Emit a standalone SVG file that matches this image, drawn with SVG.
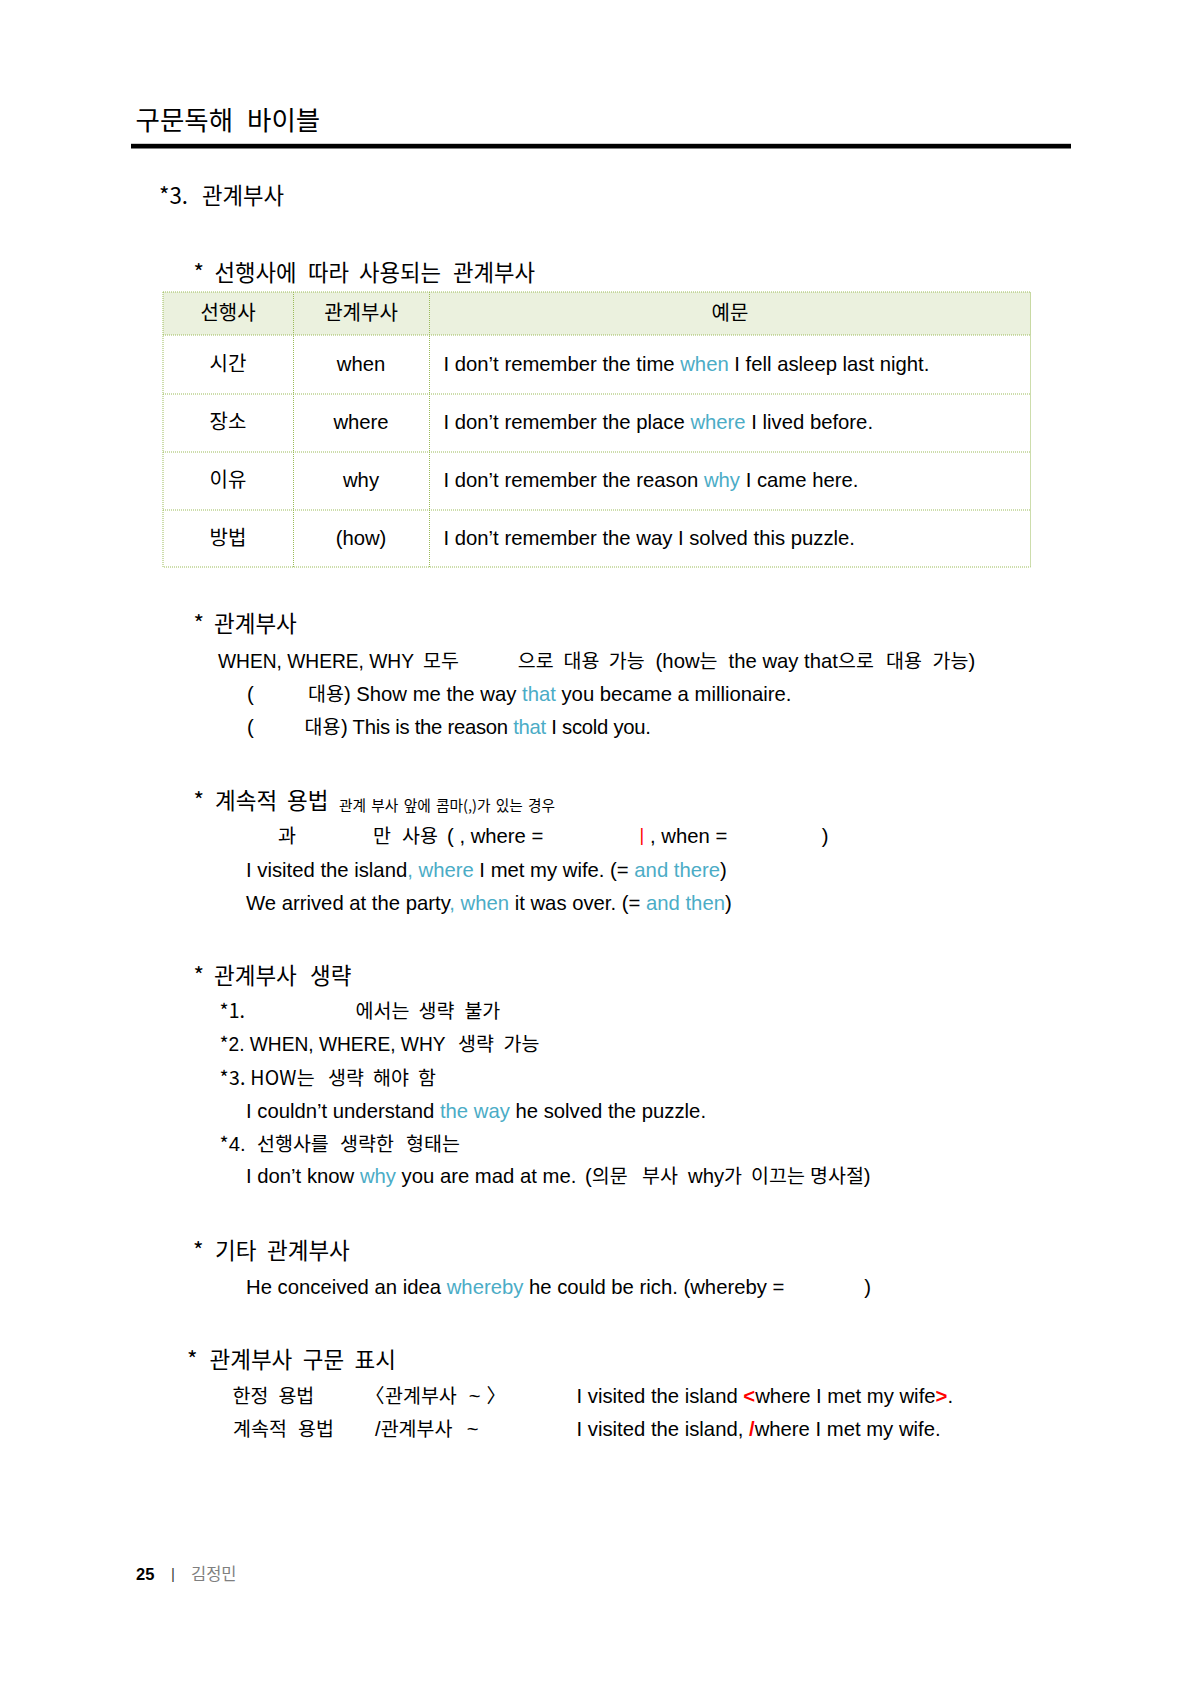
<svg xmlns="http://www.w3.org/2000/svg" width="1190" height="1683" viewBox="0 0 1190 1683">
<style>
text { font-family: "Liberation Sans", "Noto Sans CJK KR", sans-serif; font-size: 20.3px; fill: #000; }
.k { font-family: "Noto Sans CJK KR", sans-serif; font-size: 19.5px; }
.kh { font-family: "Noto Sans CJK KR", sans-serif; font-size: 22.5px; }
.ks { font-family: "Noto Sans CJK KR", sans-serif; font-size: 22.3px; }
.kt { font-family: "Noto Sans CJK KR", sans-serif; font-size: 20px; }
.small { font-family: "Noto Sans CJK KR", sans-serif; font-size: 14.7px; word-spacing: 2px; }
.b { fill: #4BACC6; }
.r { fill: #FF0000; }
.rb { fill: #FF0000; font-weight: bold; }
.mid { text-anchor: middle; }
.grid { stroke: #9BBB59; stroke-width: 1; stroke-dasharray: 1 1; fill: none; }
</style>
<rect x="0" y="0" width="1190" height="1683" fill="#FFFFFF"/>

<g id="header">
  <text y="130" style="font-family: 'Noto Sans CJK KR', sans-serif; font-size: 26.5px;"><tspan x="135.5">구문독해</tspan><tspan x="247">바이블</tspan></text>
  <rect x="131" y="143.8" width="940" height="4.7" fill="#000"/>
</g>

<g id="section-title">
  <text y="204" class="ks"><tspan x="159">*3.</tspan><tspan x="202">관계부사</tspan></text>
</g>

<g id="table-title">
  <text y="281" class="ks"><tspan x="193.5">*</tspan><tspan x="214.5">선행사에</tspan><tspan x="308">따라</tspan><tspan x="359">사용되는</tspan><tspan x="453">관계부사</tspan></text>
</g>

<g id="table">
  <rect x="163" y="292" width="867.5" height="43" fill="#EBF1DE"/>
  <rect x="163" y="292" width="867.5" height="275" class="grid"/>
  <line x1="163" y1="335" x2="1030.5" y2="335" class="grid"/>
  <line x1="163" y1="394" x2="1030.5" y2="394" class="grid"/>
  <line x1="163" y1="452" x2="1030.5" y2="452" class="grid"/>
  <line x1="163" y1="510" x2="1030.5" y2="510" class="grid"/>
  <line x1="293.5" y1="292" x2="293.5" y2="567" class="grid"/>
  <line x1="429.5" y1="292" x2="429.5" y2="567" class="grid"/>

  <text x="228" y="320" class="kt mid">선행사</text>
  <text x="361" y="320" class="kt mid">관계부사</text>
  <text x="730" y="320" class="kt mid">예문</text>

  <text x="228" y="371" class="kt mid">시간</text>
  <text x="361" y="371" class="mid">when</text>
  <text x="443.5" y="371">I don’t remember the time <tspan class="b">when</tspan> I fell asleep last night.</text>

  <text x="228" y="429" class="kt mid">장소</text>
  <text x="361" y="429" class="mid">where</text>
  <text x="443.5" y="429">I don’t remember the place <tspan class="b">where</tspan> I lived before.</text>

  <text x="228" y="487" class="kt mid">이유</text>
  <text x="361" y="487" class="mid">why</text>
  <text x="443.5" y="487">I don’t remember the reason <tspan class="b">why</tspan> I came here.</text>

  <text x="228" y="545" class="kt mid">방법</text>
  <text x="361" y="545" class="mid">(how)</text>
  <text x="443.5" y="545">I don’t remember the way I solved this puzzle.</text>
</g>

<g id="sec-relative-adverb">
  <text y="632" class="kh"><tspan x="193.5">*</tspan><tspan x="214">관계부사</tspan></text>
  <text x="218" y="668" textLength="196" lengthAdjust="spacingAndGlyphs">WHEN, WHERE, WHY</text>
  <text y="668"><tspan x="423" class="k">모두</tspan><tspan x="517.7" class="k">으로</tspan><tspan x="563.6" class="k">대용</tspan><tspan x="608.7" class="k">가능</tspan><tspan x="655.6">(how</tspan><tspan class="k">는</tspan><tspan x="728.6">the way that</tspan><tspan class="k">으로</tspan><tspan x="886" class="k">대용</tspan><tspan x="932.5" class="k">가능</tspan><tspan>)</tspan></text>
  <text y="701"><tspan x="247">(</tspan><tspan x="308" class="k">대용</tspan><tspan>) Show me the way </tspan><tspan class="b">that</tspan><tspan> you became a millionaire.</tspan></text>
  <text y="734"><tspan x="247">(</tspan><tspan x="304.5" class="k">대용</tspan></text>
  <text x="341" y="734" textLength="310" lengthAdjust="spacing">) This is the reason <tspan class="b">that</tspan> I scold you.</text>
</g>

<g id="sec-continuative">
  <text y="809" class="kh"><tspan x="193.5">*</tspan><tspan x="215">계속적</tspan><tspan x="287">용법</tspan></text>
  <text x="339" y="811" class="small">관계 부사 앞에 콤마(,)가 있는 경우</text>
  <text y="843"><tspan x="278" class="k">과</tspan><tspan x="373" class="k">만</tspan><tspan x="402" class="k">사용</tspan><tspan x="447">( , where =</tspan></text>
  <text x="639.5" y="841" class="r" style="font-size:18px">|</text>
  <text y="843"><tspan x="650">, when =</tspan><tspan x="821.7">)</tspan></text>
  <text x="246" y="877">I visited the island<tspan class="b">, where</tspan> I met my wife. (= <tspan class="b">and there</tspan>)</text>
  <text x="246" y="910">We arrived at the party<tspan class="b">, when</tspan> it was over. (= <tspan class="b">and then</tspan>)</text>
</g>

<g id="sec-omission">
  <text y="984" class="kh"><tspan x="193.5">*</tspan><tspan x="214">관계부사</tspan><tspan x="310">생략</tspan></text>
  <text y="1018"><tspan x="219.6" class="k">*1.</tspan><tspan x="355.6" class="k">에서는</tspan><tspan x="418.5" class="k">생략</tspan><tspan x="464.4" class="k">불가</tspan></text>
  <text x="219.6" y="1051" class="k">*</text>
  <text x="228.5" y="1051" textLength="217" lengthAdjust="spacingAndGlyphs">2. WHEN, WHERE, WHY</text>
  <text y="1051"><tspan x="458" class="k">생략</tspan><tspan x="503.6" class="k">가능</tspan></text>
  <text x="219.6" y="1085" class="k" textLength="95" lengthAdjust="spacing">*3. HOW는</text>
  <text y="1085"><tspan x="328" class="k">생략</tspan><tspan x="373" class="k">해야</tspan><tspan x="418" class="k">함</tspan></text>
  <text x="246" y="1118">I couldn’t understand <tspan class="b">the way</tspan> he solved the puzzle.</text>
  <text y="1151"><tspan x="219.6" class="k">*</tspan><tspan>4.</tspan><tspan x="257" class="k">선행사를</tspan><tspan x="340" class="k">생략한</tspan><tspan x="406" class="k">형태는</tspan></text>
  <text y="1183"><tspan x="246">I don’t know </tspan><tspan class="b">why</tspan><tspan> you are mad at me.</tspan><tspan x="585">(</tspan><tspan class="k">의문</tspan><tspan x="642" class="k">부사</tspan><tspan x="688">why</tspan><tspan class="k">가</tspan><tspan x="751" class="k">이끄는</tspan><tspan x="810" class="k">명사절</tspan><tspan>)</tspan></text>
</g>

<g id="sec-other">
  <text y="1259" class="kh"><tspan x="193">*</tspan><tspan x="215">기타</tspan><tspan x="267">관계부사</tspan></text>
  <text y="1294"><tspan x="246">He conceived an idea </tspan><tspan class="b">whereby</tspan><tspan> he could be rich. (whereby =</tspan><tspan x="864.3">)</tspan></text>
</g>

<g id="sec-marking">
  <text y="1368" class="kh"><tspan x="187">*</tspan><tspan x="209.5">관계부사</tspan><tspan x="302.7">구문</tspan><tspan x="354.5">표시</tspan></text>
  <text y="1403"><tspan x="232.5" class="k">한정</tspan><tspan x="278.4" class="k">용법</tspan><tspan x="365" class="k">〈</tspan><tspan x="385" class="k">관계부사</tspan><tspan x="468.7">~</tspan><tspan x="486.5" class="k">〉</tspan></text>
  <text x="576.5" y="1403">I visited the island <tspan class="rb">&lt;</tspan>where I met my wife<tspan class="rb">&gt;</tspan>.</text>
  <text y="1436"><tspan x="233" class="k">계속적</tspan><tspan x="298" class="k">용법</tspan><tspan x="375">/</tspan><tspan class="k">관계부사</tspan><tspan x="466.7">~</tspan></text>
  <text x="576.5" y="1436">I visited the island, <tspan class="rb">/</tspan>where I met my wife.</text>
</g>

<g id="footer">
  <text x="136" y="1580" style="font-size:16.5px; font-weight:bold;">25</text>
  <text x="171" y="1579" style="font-size:15px; fill:#404040;">|</text>
  <text x="191" y="1580" style="font-family:'Noto Sans CJK KR', sans-serif; font-size:16.5px; fill:#7F7F7F;">김정민</text>
</g>
</svg>
